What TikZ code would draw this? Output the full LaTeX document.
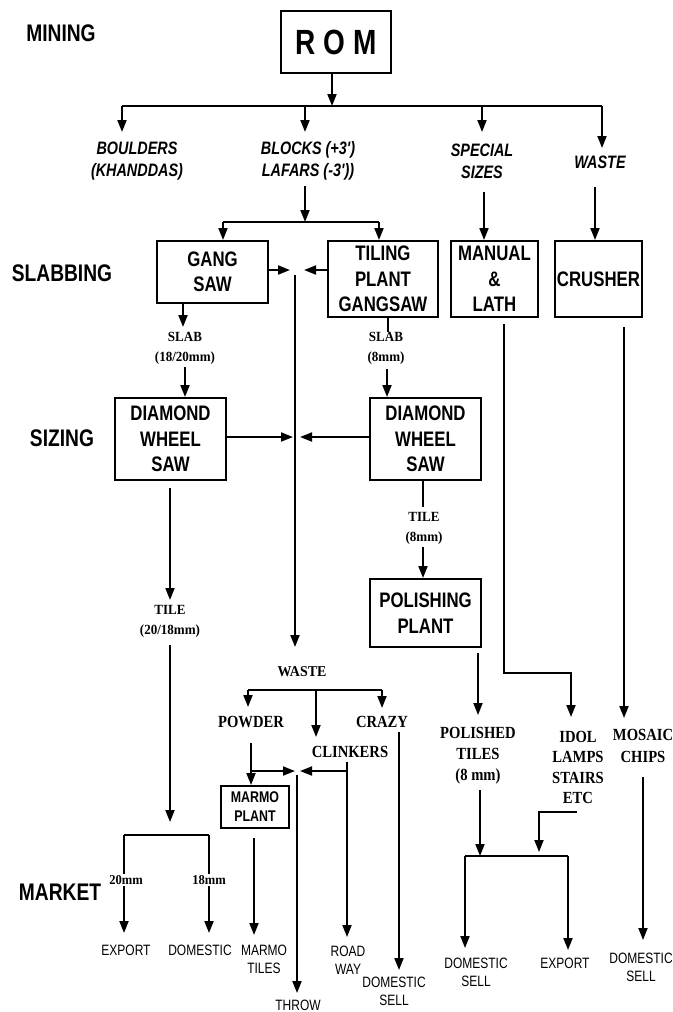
\documentclass[tikz,border=0pt]{standalone}
\usepackage{fontspec}
\usetikzlibrary{arrows.meta}
\newfontfamily\sansN[FakeStretch=0.8]{Liberation Sans}
\newfontfamily\serifN[FakeStretch=0.86]{Liberation Serif}
\newfontfamily\serifW[FakeStretch=0.93]{Liberation Serif}
\tikzset{
 ln/.style={line width=1.8pt},
 br/.style={line width=2.2pt},
 ar/.style={line width=1.8pt,-{Triangle[length=12pt,width=9pt]}},
 box/.style={draw,line width=2pt,inner sep=0pt,align=center,font=\sansN\bfseries\fontsize{21}{25.5}\selectfont},
 sect/.style={font=\sansN\bfseries\fontsize{24}{28}\selectfont},
 ital/.style={align=center,font=\sansN\bfseries\itshape\fontsize{18}{22}\selectfont},
 slab/.style={align=center,inner sep=1pt,font=\serifW\bfseries\fontsize{14}{20}\selectfont},
 prod/.style={align=center,inner sep=1pt,font=\serifN\bfseries\fontsize{17}{21}\selectfont},
 mm/.style={fill=white,inner sep=1pt,font=\serifW\bfseries\fontsize{13.5}{15}\selectfont},
 mkt/.style={align=center,inner sep=1pt,font=\sansN\fontsize{15}{18}\selectfont},
}
\begin{document}
\begin{tikzpicture}[x=1pt,y=-1pt]
\useasboundingbox (0,0) rectangle (672,1012);
% section labels
\node[sect] (mining) at (61,33) {MINING};
\node[sect] (slabbing) at (62,273) {SLABBING};
\node[sect] (sizing) at (62,438) {SIZING};
\node[sect] (market) at (60,892) {MARKET};
% ROM
\node[box,minimum width=110pt,minimum height=62pt,font=\sansN\bfseries\fontsize{35}{40}\selectfont] (rom) at (336,42) {R O M};
\coordinate (j0) at (332,106);
\coordinate (j1) at (122,106);
\coordinate (j2) at (305,106);
\coordinate (j3) at (482,106);
\coordinate (j4) at (602,106);
\coordinate (a1) at (122,132);
\coordinate (a2) at (305,132);
\coordinate (a3) at (482,132);
\coordinate (a4) at (602,148);
\draw[ar] (rom.south -| j0) -- (j0);
\draw[br] (j1) -- (j4);
\draw[ar] (j1) -- (a1);
\draw[ar] (j2) -- (a2);
\draw[ar] (j3) -- (a3);
\draw[ar] (j4) -- (a4);
\node[ital] (boulders) at (137,161) {BOULDERS\\(KHANDDAS)};
\node[ital] (blocks) at (308,161) {BLOCKS (+3')\\LAFARS (-3'))};
\node[ital] (special) at (482,161) {SPECIAL\\SIZES};
\node[ital] (waste1) at (600,162) {WASTE};
% slabbing boxes
\node[box,minimum width=111pt,minimum height=62pt] (gang) at (212.5,272) {GANG\\SAW};
\node[box,minimum width=110pt,minimum height=76pt] (tiling) at (383,279) {TILING\\PLANT\\GANGSAW};
\node[box,minimum width=87pt,minimum height=76pt] (manual) at (494.5,279) {MANUAL\\\&\\LATH};
\node[box,minimum width=87pt,minimum height=76pt] (crusher) at (598.5,279) {CRUSHER};
\coordinate (bk) at (305,186);
\coordinate (bj) at (305,222);
\coordinate (bjl) at (223,222);
\coordinate (bjr) at (379,222);
\draw[ar] (bk) -- (bj);
\draw[br] (bjl) -- (bjr);
\draw[ar] (bjl) -- (bjl |- gang.north);
\draw[ar] (bjr) -- (bjr |- tiling.north);
\coordinate (sp) at (484,192);
\draw[ar] (sp) -- (sp |- manual.north);
\coordinate (ws) at (595,187);
\draw[ar] (ws) -- (ws |- crusher.north);
% central waste line
\coordinate (cv1) at (295,275);
\coordinate (cv2) at (295,647);
\draw[ar] (cv1) -- (cv2);
\coordinate (ga) at (290,270);
\draw[ar] (gang.east |- ga) -- (ga);
\coordinate (ta) at (304,270);
\draw[ar] (tiling.west |- ta) -- (ta);
% slab labels
\coordinate (gs) at (183,327);
\draw[ar] (gang.south -| gs) -- (gs);
\node[slab] (slab1) at (185,348) {SLAB\\(18/20mm)};
\coordinate (tl) at (388,332);
\draw[ln] (tiling.south -| tl) -- (tl);
\node[slab] (slab2) at (386,348) {SLAB\\(8mm)};
% sizing boxes
\node[box,minimum width=111pt,minimum height=82pt] (dia1) at (170.5,439) {DIAMOND\\WHEEL\\SAW};
\node[box,minimum width=111pt,minimum height=82pt] (dia2) at (425.5,439) {DIAMOND\\WHEEL\\SAW};
\coordinate (g2) at (185,367);
\draw[ar] (g2) -- (g2 |- dia1.north);
\coordinate (t2) at (387,369);
\draw[ar] (t2) -- (t2 |- dia2.north);
\coordinate (da) at (293,437);
\draw[ar] (dia1.east |- da) -- (da);
\coordinate (db) at (300,437);
\draw[ar] (dia2.west |- db) -- (db);
% left tile path
\coordinate (d1a) at (170,488);
\coordinate (d1b) at (170,600);
\draw[ar] (d1a) -- (d1b);
\node[slab] (tile1) at (170,621) {TILE\\(20/18mm)};
\coordinate (d1c) at (170,645);
\coordinate (d1d) at (170,822);
\draw[ar] (d1c) -- (d1d);
\coordinate (m1) at (124,835);
\coordinate (m2) at (209,835);
\coordinate (m1e) at (124,933);
\coordinate (m2e) at (209,933);
\draw[br] (m1) -- (m2);
\draw[ar] (m1) -- (m1e);
\draw[ar] (m2) -- (m2e);
\node[mm] (mm20) at (126,880) {20mm};
\node[mm] (mm18) at (209,880) {18mm};
\node[mkt] (export1) at (126,950) {EXPORT};
\node[mkt] (dom1) at (200,950) {DOMESTIC};
% right tile path
\coordinate (d2a) at (423,507);
\draw[ln] (dia2.south -| d2a) -- (d2a);
\node[slab] (tile2) at (424,528) {TILE\\(8mm)};
\node[box,minimum width=111pt,minimum height=68pt] (pol) at (425.5,613) {POLISHING\\PLANT};
\coordinate (d2b) at (423,547);
\draw[ar] (d2b) -- (d2b |- pol.north);
\coordinate (p1) at (478,653);
\coordinate (p2) at (478,715);
\draw[ar] (p1) -- (p2);
\node[prod] (polished) at (478,756) {POLISHED\\TILES\\(8 mm)};
\coordinate (p3) at (480,790);
\coordinate (p4) at (480,856);
\draw[ar] (p3) -- (p4);
\coordinate (q1) at (465,856);
\coordinate (q2) at (568,856);
\coordinate (q1e) at (465,948);
\coordinate (q2e) at (568,950);
\draw[br] (q1) -- (q2);
\draw[ar] (q1) -- (q1e);
\draw[ar] (q2) -- (q2e);
\node[mkt] (dom2) at (476,972) {DOMESTIC\\SELL};
\node[mkt] (export2) at (565,963) {EXPORT};
% manual path
\coordinate (mn1) at (504,324);
\coordinate (mn2) at (504,673);
\coordinate (mn3) at (571,673);
\coordinate (mn4) at (571,717);
\draw[ar] (mn1) -- (mn2) -- (mn3) -- (mn4);
\node[prod,font=\serifN\bfseries\fontsize{17}{20.3}\selectfont] (idol) at (578,767.5) {IDOL\\LAMPS\\STAIRS\\ETC};
\coordinate (e1) at (577,812);
\coordinate (e2) at (539,812);
\coordinate (e3) at (539,852);
\draw[ar] (e1) -- (e2) -- (e3);
% crusher path
\coordinate (c1) at (624,327);
\coordinate (c2) at (624,718);
\draw[ar] (c1) -- (c2);
\node[prod,font=\serifN\bfseries\fontsize{17}{22}\selectfont] (mosaic) at (643,746) {MOSAIC\\CHIPS};
\coordinate (c3) at (643,777);
\coordinate (c4) at (643,940);
\draw[ar] (c3) -- (c4);
\node[mkt] (dom3) at (641,967) {DOMESTIC\\SELL};
% waste branch
\node[slab,font=\serifW\bfseries\fontsize{15}{18}\selectfont] (waste2) at (302,672) {WASTE};
\coordinate (w1) at (248,690);
\coordinate (w2) at (382,690);
\coordinate (wm) at (316,690);
\coordinate (w1e) at (248,707);
\coordinate (w2e) at (382,708);
\coordinate (wme) at (316,737);
\draw[br] (w1) -- (w2);
\draw[ar] (w1) -- (w1e);
\draw[ar] (w2) -- (w2e);
\draw[ar] (wm) -- (wme);
\node[prod] (powder) at (251,722) {POWDER};
\node[prod] (crazy) at (382,722) {CRAZY};
\node[prod] (clinkers) at (350,752) {CLINKERS};
\node[box,minimum width=68pt,minimum height=42pt,font=\sansN\bfseries\fontsize{15.5}{19}\selectfont] (marmo) at (255,807) {MARMO\\PLANT};
\coordinate (pw1) at (251,743);
\coordinate (pw2) at (251,771);
\coordinate (pa) at (295,771);
\draw[ln] (pw1) -- (pw2);
\draw[ar] (pw2) -- (marmo.north -| pw2);
\draw[ar] (pw2) -- (pa);
\coordinate (cl1) at (347,762);
\coordinate (cl2) at (347,771);
\coordinate (cl3) at (347,937);
\coordinate (cb) at (300,771);
\draw[ar] (cl1) -- (cl3);
\draw[ar] (cl2) -- (cb);
\coordinate (th1) at (297,775);
\coordinate (th2) at (297,993);
\draw[ar] (th1) -- (th2);
\node[mkt] (throw) at (298,1005) {THROW};
\coordinate (cz1) at (399,732);
\coordinate (cz2) at (399,970);
\draw[ar] (cz1) -- (cz2);
\node[mkt] (dom4) at (394,991) {DOMESTIC\\SELL};
\coordinate (mk1) at (254,838);
\coordinate (mk2) at (254,935);
\draw[ar] (mk1) -- (mk2);
\node[mkt] (marmotiles) at (264,959) {MARMO\\TILES};
\node[mkt] (roadway) at (348,960) {ROAD\\WAY};
\end{tikzpicture}
\end{document}
